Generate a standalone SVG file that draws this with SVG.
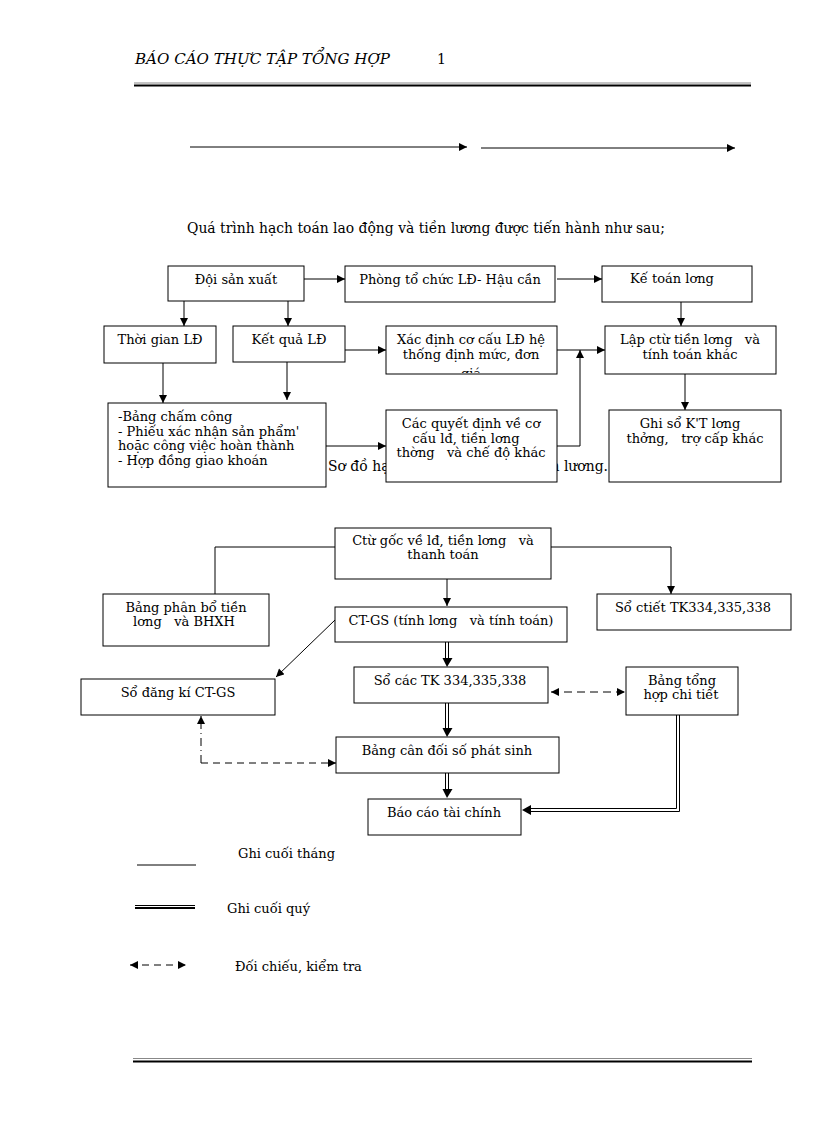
<svg xmlns="http://www.w3.org/2000/svg" width="816" height="1123" viewBox="0 0 816 1123">
<style>
.t{font-family:"DejaVu Serif","Liberation Serif",serif;font-size:13px;fill:#000}
.b{fill:#fff;stroke:#000;stroke-width:1}
.l{fill:none;stroke:#000;stroke-width:1}
.d{fill:none;stroke:#000;stroke-width:1;stroke-dasharray:7,5}
</style>
<defs>
<marker id="a" viewBox="0 0 10 10" refX="10" refY="5" markerWidth="9" markerHeight="8" markerUnits="userSpaceOnUse" orient="auto"><path d="M0,0 L10,5 L0,10 z" fill="#000"/></marker>
<marker id="as" viewBox="0 0 10 10" refX="0" refY="5" markerWidth="9" markerHeight="8" markerUnits="userSpaceOnUse" orient="auto"><path d="M10,0 L0,5 L10,10 z" fill="#000"/></marker>
<clipPath id="c1"><rect x="386" y="326" width="171" height="47"/></clipPath>
</defs>
<rect width="816" height="1123" fill="#fff"/>
<g id="header">
<text x="135" y="64" class="t" style="font-style:italic;font-size:14px" textLength="255" lengthAdjust="spacingAndGlyphs">BÁO CÁO THỰC TẬP TỔNG HỢP</text>
<text x="437" y="64" class="t" style="font-size:14px">1</text>
<line x1="134" y1="83" x2="751" y2="83" stroke="#888" stroke-width="1"/>
<line x1="134" y1="85.5" x2="751" y2="85.5" stroke="#000" stroke-width="2"/>
</g>
<g id="top-arrows">
<line x1="190" y1="147" x2="467" y2="147" class="l" marker-end="url(#a)"/>
<line x1="481" y1="148" x2="735" y2="148" class="l" marker-end="url(#a)"/>
</g>
<text x="187" y="233" class="t" style="font-size:14px" textLength="478" lengthAdjust="spacingAndGlyphs">Quá trình hạch toán lao động và tiền lương được tiến hành như sau;</text>
<text x="328" y="471" class="t" style="font-size:14px" textLength="280" lengthAdjust="spacingAndGlyphs">Sơ đồ hạch toán lao động và tiền lương.</text>

<g id="connectors1">
<line x1="304" y1="279" x2="345" y2="279" class="l" marker-end="url(#a)"/>
<line x1="557" y1="279" x2="602" y2="279" class="l" marker-end="url(#a)"/>
<line x1="184" y1="301" x2="184" y2="326" class="l" marker-end="url(#a)"/>
<line x1="288" y1="301" x2="288" y2="326" class="l" marker-end="url(#a)"/>
<line x1="681" y1="302" x2="681" y2="326" class="l" marker-end="url(#a)"/>
<line x1="345" y1="350" x2="386" y2="350" class="l" marker-end="url(#a)"/>
<line x1="557" y1="350" x2="605" y2="350" class="l" marker-end="url(#a)"/>
<line x1="163" y1="363" x2="163" y2="403" class="l" marker-end="url(#a)"/>
<line x1="287" y1="362" x2="287" y2="400" class="l" marker-end="url(#a)"/>
<line x1="685" y1="374" x2="685" y2="410" class="l" marker-end="url(#a)"/>
<line x1="326" y1="446" x2="386" y2="446" class="l" marker-end="url(#a)"/>
<polyline points="557,446 580,446 580,350" class="l" marker-end="url(#a)"/>
</g>

<g id="n-doi"><rect x="168" y="266" width="136" height="35" class="b"/><text x="236" y="284" class="t" text-anchor="middle">Đội sản xuất</text></g>
<g id="n-phong"><rect x="345" y="266" width="210" height="36" class="b"/><text x="450" y="284" class="t" text-anchor="middle">Phòng tổ chức LĐ- Hậu cần</text></g>
<g id="n-ketoan"><rect x="602" y="266" width="150" height="36" class="b"/><text x="672" y="283" class="t" text-anchor="middle">Kế toán lơng</text></g>
<g id="n-thoigian"><rect x="104" y="326" width="112" height="37" class="b"/><text x="160" y="344" class="t" text-anchor="middle">Thời gian LĐ</text></g>
<g id="n-ketqua"><rect x="233" y="326" width="112" height="36" class="b"/><text x="289" y="344" class="t" text-anchor="middle">Kết quả LĐ</text></g>
<g id="n-xacdinh"><rect x="386" y="326" width="171" height="48" class="b"/><g clip-path="url(#c1)"><text x="471" y="344" class="t" text-anchor="middle">Xác định cơ cấu LĐ hệ</text><text x="471" y="359" class="t" text-anchor="middle">thống định mức, đơn</text><text x="471" y="378" class="t" text-anchor="middle">giá</text></g></g>
<g id="n-lap"><rect x="605" y="326" width="171" height="48" class="b"/><text x="690" y="344" class="t" text-anchor="middle" xml:space="preserve">Lập ctừ tiền lơng   và</text><text x="690" y="359" class="t" text-anchor="middle">tính toán khác</text></g>
<g id="n-bang"><rect x="108" y="403" width="218" height="84" class="b"/>
<text x="118" y="421" class="t">-Bảng chấm công</text>
<text x="118" y="436" class="t">- Phiếu xác nhận sản phẩm'</text>
<text x="118" y="450" class="t">hoặc công việc hoàn thành</text>
<text x="118" y="465" class="t">- Hợp đồng giao khoán</text></g>
<g id="n-quyetdinh"><rect x="386" y="410" width="171" height="72" class="b"/>
<text x="471" y="428" class="t" text-anchor="middle">Các quyết định về cơ</text>
<text x="466" y="443" class="t" text-anchor="middle">cấu lđ, tiền lơng</text>
<text x="471" y="457" class="t" text-anchor="middle" xml:space="preserve">thờng   và chế độ khác</text></g>
<g id="n-ghiso"><rect x="609" y="410" width="172" height="72" class="b"/>
<text x="690" y="428" class="t" text-anchor="middle">Ghi sổ K'T lơng</text>
<text x="695" y="443" class="t" text-anchor="middle" xml:space="preserve">thởng,   trợ cấp khác</text></g>

<g id="connectors2">
<polyline points="335,547 215,547 215,594" class="l"/>
<polyline points="551,547 671,547 671,594" class="l" marker-end="url(#a)"/>
<line x1="447" y1="579" x2="447" y2="606" class="l" marker-end="url(#a)"/>
<line x1="335" y1="620" x2="276" y2="677" class="l" marker-end="url(#a)"/>
<g id="dbl1" class="l"><line x1="445.5" y1="642" x2="445.5" y2="660"/><line x1="448.5" y1="642" x2="448.5" y2="660"/><path d="M442.5,658 L452.5,658 L447,667 z" fill="#000" stroke="none"/></g>
<g id="dbl2" class="l"><line x1="445.5" y1="703" x2="445.5" y2="729"/><line x1="448.5" y1="703" x2="448.5" y2="729"/><path d="M442.5,728 L452.5,728 L447,737 z" fill="#000" stroke="none"/></g>
<g id="dbl3" class="l"><line x1="445.5" y1="773" x2="445.5" y2="790"/><line x1="448.5" y1="773" x2="448.5" y2="790"/><path d="M442.5,789 L452.5,789 L447,798 z" fill="#000" stroke="none"/></g>
<g id="dbl4" class="l"><polyline points="676.5,715 676.5,808.5 530,808.5"/><polyline points="679.5,715 679.5,811.5 530,811.5"/><path d="M531,805 L531,815 L522,810 z" fill="#000" stroke="none"/></g>
<line x1="551" y1="692" x2="625" y2="692" class="d" marker-start="url(#as)" marker-end="url(#a)" style="stroke-dasharray:8,5"/>
<line x1="201" y1="763" x2="201" y2="716" class="l" style="stroke-dasharray:8,4,1,4" marker-end="url(#a)"/>
<line x1="201" y1="763" x2="336" y2="763" class="d" marker-end="url(#a)"/>
</g>

<g id="n-ctu"><rect x="335" y="528" width="216" height="51" class="b"/><text x="443" y="545" class="t" text-anchor="middle" xml:space="preserve">Ctừ gốc về lđ, tiền lơng   và</text><text x="443" y="559" class="t" text-anchor="middle">thanh toán</text></g>
<g id="n-phanbo"><rect x="103" y="594" width="166" height="52" class="b"/><text x="186" y="612" class="t" text-anchor="middle">Bảng phân bổ tiền</text><text x="184" y="626" class="t" text-anchor="middle" xml:space="preserve">lơng   và BHXH</text></g>
<g id="n-soctiet"><rect x="597" y="594" width="194" height="36" class="b"/><text x="693" y="612" class="t" text-anchor="middle">Sổ ctiết TK334,335,338</text></g>
<g id="n-ctgs"><rect x="335" y="607" width="232" height="35" class="b"/><text x="451" y="625" class="t" text-anchor="middle" xml:space="preserve">CT-GS (tính lơng   và tính toán)</text></g>
<g id="n-sodangki"><rect x="81" y="679" width="194" height="36" class="b"/><text x="178" y="697" class="t" text-anchor="middle">Sổ đăng kí CT-GS</text></g>
<g id="n-socac"><rect x="354" y="667" width="194" height="36" class="b"/><text x="450" y="685" class="t" text-anchor="middle">Sổ các TK 334,335,338</text></g>
<g id="n-tonghop"><rect x="626" y="667" width="112" height="48" class="b"/><text x="682" y="685" class="t" text-anchor="middle">Bảng tổng</text><text x="681" y="699" class="t" text-anchor="middle">hợp chi tiết</text></g>
<g id="n-candoi"><rect x="336" y="737" width="223" height="36" class="b"/><text x="447" y="755" class="t" text-anchor="middle">Bảng cân đối số phát sinh</text></g>
<g id="n-baocao"><rect x="368" y="799" width="153" height="36" class="b"/><text x="444" y="817" class="t" text-anchor="middle">Báo cáo tài chính</text></g>

<g id="legend">
<line x1="137" y1="865" x2="196" y2="865" class="l"/>
<text x="238" y="858" class="t">Ghi cuối tháng</text>
<line x1="135" y1="905.5" x2="195" y2="905.5" stroke="#000" stroke-width="1"/>
<line x1="135" y1="908" x2="195" y2="908" stroke="#000" stroke-width="2"/>
<text x="227" y="913" class="t">Ghi cuối quý</text>
<line x1="130" y1="965" x2="186" y2="965" class="l" style="stroke-dasharray:7,5" marker-start="url(#as)" marker-end="url(#a)"/>
<text x="235" y="971" class="t">Đối chiếu, kiểm tra</text>
</g>
<g id="footer">
<line x1="133" y1="1058.5" x2="752" y2="1058.5" stroke="#888" stroke-width="1"/>
<line x1="133" y1="1061.5" x2="752" y2="1061.5" stroke="#000" stroke-width="2"/>
</g>
</svg>
